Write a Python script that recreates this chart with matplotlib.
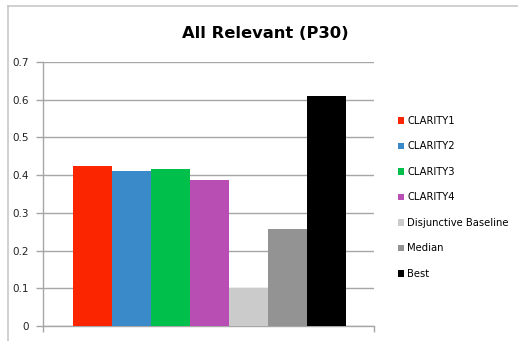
import matplotlib.pyplot as plt
from matplotlib.lines import Line2D
from matplotlib.patches import Patch

# P30 scores per run
runs = ['CLARITY1', 'CLARITY2', 'CLARITY3', 'CLARITY4',
        'Disjunctive Baseline', 'Median', 'Best']
p30 = [0.424, 0.411, 0.416, 0.387, 0.100, 0.257, 0.610]
colors = ['#fb2500', '#3a89c9', '#00c04b', '#b84db4',
          '#cbcbcb', '#939393', '#000000']
yticks = [0, 0.1, 0.2, 0.3, 0.4, 0.5, 0.6, 0.7]
ytick_labels = ['0', '0.1', '0.2', '0.3', '0.4', '0.5', '0.6', '0.7']

grid_color = '#a6a6a6'

fig = plt.figure(figsize=(5.18, 3.41), dpi=100)
fig.patch.set_facecolor('white')

# frame edges along the top and left of the chart area
fx = 7.5 / 518
fy = 1 - 5.5 / 341
fig.add_artist(Line2D([fx, 1], [fy, fy], transform=fig.transFigure,
                      color='#c8c8c8', linewidth=1.2))
fig.add_artist(Line2D([fx, fx], [0, fy], transform=fig.transFigure,
                      color='#c8c8c8', linewidth=1.2))

ax = fig.add_axes([43 / 518, 15 / 341, 331 / 518, 264 / 341])

xs = list(range(len(runs)))
ax.bar(xs, p30, width=1.0, color=colors, zorder=3)

ax.set_xlim(-1.27, 7.22)
ax.set_ylim(0, 0.7)
ax.set_yticks(yticks)
ax.set_yticklabels(ytick_labels)
ax.yaxis.grid(True, color=grid_color, linewidth=1.0, zorder=0)

ax.set_xticks([-1.27, 7.22])
ax.set_xticklabels(['', ''])
ax.tick_params(axis='x', length=4, color=grid_color, width=1.0)
ax.tick_params(axis='y', length=5, color=grid_color, width=1.0,
               labelsize=7.5, labelcolor='#222222', pad=5)

for side in ['top', 'right']:
    ax.spines[side].set_visible(False)
for side in ['left', 'bottom']:
    ax.spines[side].set_color(grid_color)
    ax.spines[side].set_linewidth(1.0)

fig.text(265 / 518, 1 - 33 / 341, 'All Relevant (P30)', ha='center',
         va='center', fontsize=11.8, fontweight='bold')

handles = [Patch(facecolor=c, edgecolor='none') for c in colors]
fig.legend(handles, runs, loc='upper left',
           bbox_to_anchor=(394 / 518, 1 - 112 / 341),
           frameon=False, fontsize=7.2, handlelength=0.6, handleheight=0.6,
           handletextpad=0.3, labelspacing=1.55, borderaxespad=0)

fig.savefig('out.png', dpi=100)
